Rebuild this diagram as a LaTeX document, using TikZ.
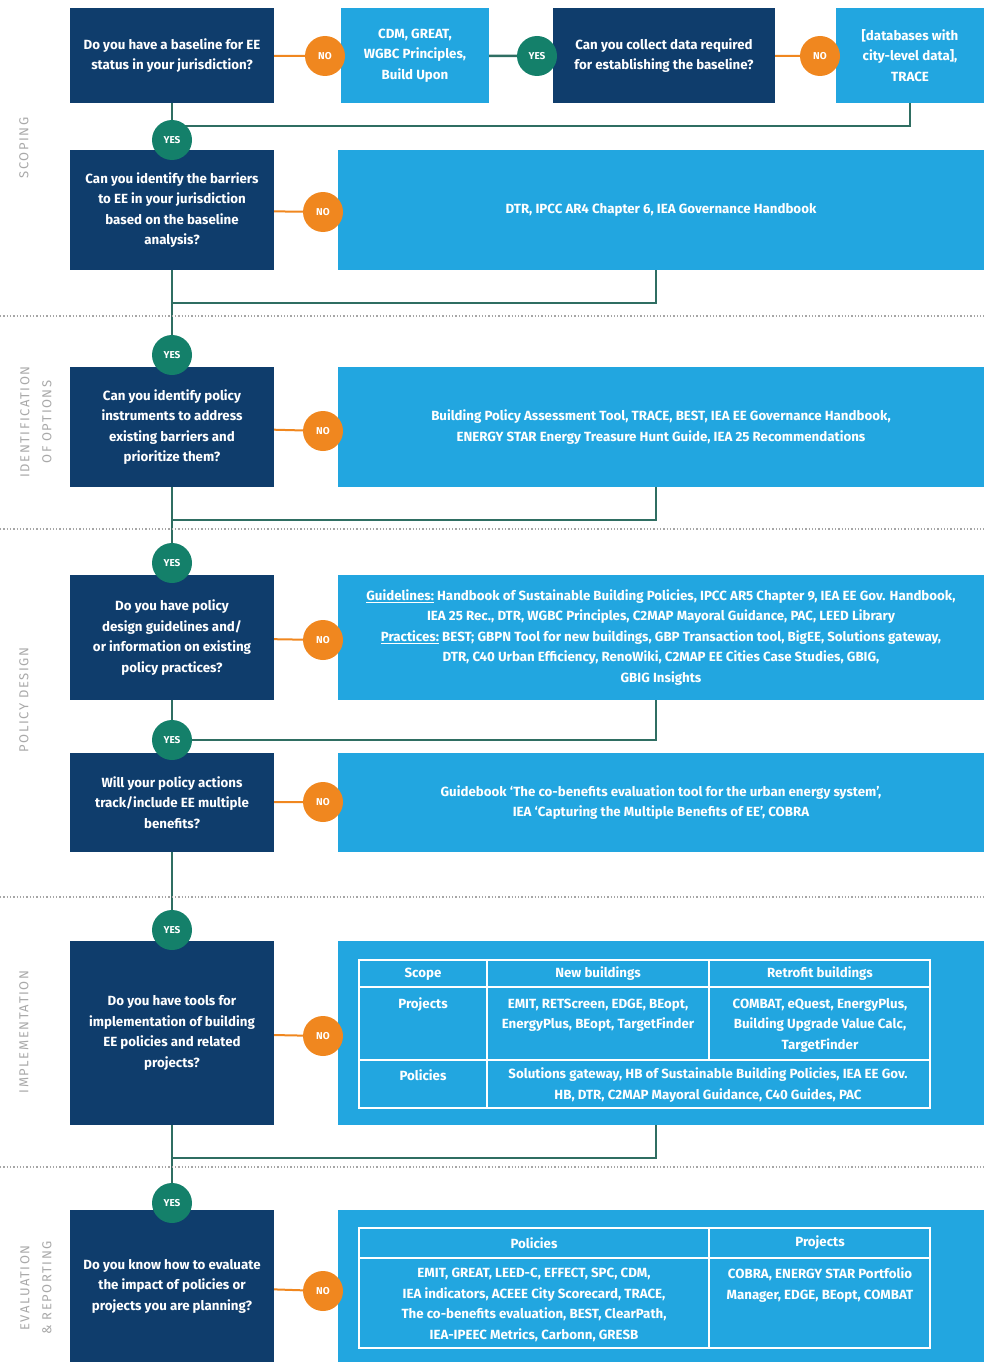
\documentclass[tikz,border=0pt]{standalone}
\usepackage{fontspec}
\setmainfont{Fira Sans}
\newfontfamily\sidefamily[LetterSpace=12]{Fira Sans}
\usetikzlibrary{backgrounds}

\definecolor{navy}{HTML}{0F3D6C}
\definecolor{sky}{HTML}{22A6E0}
\definecolor{leaf}{HTML}{14806A}
\definecolor{flame}{HTML}{F0871F}
\definecolor{tealline}{HTML}{2F6E62}
\definecolor{sidegray}{HTML}{A9A9A9}
\newcommand{\boxfont}{\bfseries\fontsize{13.3}{20.5}\selectfont}
\newcommand{\dotfont}{\bfseries\fontsize{10}{11}\selectfont}

\begin{document}
\begin{tikzpicture}[x=1pt,y=-1pt,
        question/.style={fill=navy,text=white,font=\boxfont,align=center,minimum width=204pt,inner sep=0pt},
        answer/.style={fill=sky,text=white,font=\boxfont,align=center,inner sep=0pt},
        wide/.style={answer,minimum width=646pt},
        yesdot/.style={circle,fill=leaf,text=white,font=\dotfont,minimum size=40pt,inner sep=0pt},
        nodot/.style={yesdot,fill=flame},
        flow/.style={draw=tealline,line width=2.5pt},
        nofl/.style={draw=flame,line width=2pt},
        sepline/.style={draw=gray!70,dotted,line width=1.3pt},
        grid/.style={draw=white,line width=1.6pt},
        cell/.style={text=white,font=\boxfont,align=center,inner sep=0pt},
        side/.style={rotate=90,text=sidegray,font=\sidefamily\fontsize{13}{22}\selectfont,align=center}]
    \useasboundingbox (0,0) rectangle (984,1362);

    \node[side] (s1) at (24,148) {SCOPING};
    \node[side] (s2) at (36,422) {IDENTIFICATION\\OF OPTIONS};
    \node[side] (s3) at (24,700) {POLICY DESIGN};
    \node[side] (s4) at (24,1032) {IMPLEMENTATION};
    \node[side] (s5) at (36,1288) {EVALUATION\\\& REPORTING};

    \draw[sepline] (0,316) -- (984,316);
    \draw[sepline] (0,529) -- (984,529);
    \draw[sepline] (0,897) -- (984,897);
    \draw[sepline] (0,1167) -- (984,1167);

    \node[question,minimum height=95pt] (q1) at (172,55.5) {Do you have a baseline for EE\\status in your jurisdiction?};
    \node[answer,minimum width=148pt,minimum height=95pt] (a1) at (415,55.5) {CDM, GREAT,\\WGBC Principles,\\Build Upon};
    \node[question,minimum width=222pt,minimum height=95pt] (q2) at (664,55.5) {Can you collect data required\\for establishing the baseline?};
    \node[answer,minimum width=148pt,minimum height=95pt] (a2) at (910,55.5) {[databases with\\city-level data],\\TRACE};

    \node[question,minimum height=120pt] (q3) at (172,210) {Can you identify the barriers\\to EE in your jurisdiction\\based on the baseline\\analysis?};
    \node[wide,minimum height=120pt] (b3) at (661,210) {DTR, IPCC AR4 Chapter 6, IEA Governance Handbook};

    \node[question,minimum height=120pt] (q4) at (172,427) {Can you identify policy\\instruments to address\\existing barriers and\\prioritize them?};
    \node[wide,minimum height=120pt] (b4) at (661,427) {Building Policy Assessment Tool, TRACE, BEST, IEA EE Governance Handbook,\\ENERGY STAR Energy Treasure Hunt Guide, IEA 25 Recommendations};

    \node[question,minimum height=125pt] (q5) at (172,637.5) {Do you have policy\\design guidelines and/\\or information on existing\\policy practices?};
    \node[wide,minimum height=125pt] (b5) at (661,637.5) {\underline{Guidelines:} Handbook of Sustainable Building Policies, IPCC AR5 Chapter 9, IEA EE Gov. Handbook,\\IEA 25 Rec., DTR, WGBC Principles, C2MAP Mayoral Guidance, PAC, LEED Library\\\underline{Practices:} BEST; GBPN Tool for new buildings, GBP Transaction tool, BigEE, Solutions gateway,\\DTR, C40 Urban Efficiency, RenoWiki, C2MAP EE Cities Case Studies, GBIG,\\GBIG Insights};

    \node[question,minimum height=99pt] (q6) at (172,802.5) {Will your policy actions\\track/include EE multiple\\benefits?};
    \node[wide,minimum height=99pt] (b6) at (661,802.5) {Guidebook `The co-benefits evaluation tool for the urban energy system',\\IEA `Capturing the Multiple Benefits of EE', COBRA};

    \node[question,minimum height=184pt] (q7) at (172,1033) {Do you have tools for\\implementation of building\\EE policies and related\\projects?};
    \node[wide,minimum height=184pt] (b7) at (661,1033) {};

    \node[question,minimum height=152pt] (q8) at (172,1286) {Do you know how to evaluate\\the impact of policies or\\projects you are planning?};
    \node[wide,minimum height=152pt] (b8) at (661,1286) {};

    \draw[grid] (359,960) rectangle (930,1108) (487,960) -- (487,1108) (709,960) -- (709,1060)
        (359,987) -- (930,987) (359,1060) -- (930,1060);
    \node[cell] (t1a) at (423,974) {Scope};
    \node[cell] (t1b) at (598,974) {New buildings};
    \node[cell] (t1c) at (820,974) {Retrofit buildings};
    \node[cell] (t1d) at (423,1005) {Projects};
    \node[cell] (t1e) at (598,1015) {EMIT, RETScreen, EDGE, BEopt,\\EnergyPlus, BEopt, TargetFinder};
    \node[cell] (t1f) at (820,1025) {COMBAT, eQuest, EnergyPlus,\\Building Upgrade Value Calc,\\TargetFinder};
    \node[cell] (t1g) at (423,1075) {Policies};
    \node[cell] (t1h) at (708,1085) {Solutions gateway, HB of Sustainable Building Policies, IEA EE Gov.\\HB, DTR, C2MAP Mayoral Guidance, C40 Guides, PAC};

    \draw[grid] (359,1228) rectangle (930,1348) (709,1228) -- (709,1348) (359,1258) -- (930,1258);
    \node[cell] (t2a) at (534,1243) {Policies};
    \node[cell] (t2b) at (820,1243) {Projects};
    \node[cell] (t2c) at (534,1305) {EMIT, GREAT, LEED-C, EFFECT, SPC, CDM,\\IEA indicators, ACEEE City Scorecard, TRACE,\\The co-benefits evaluation, BEST, ClearPath,\\IEA-IPEEC Metrics, Carbonn, GRESB};
    \node[cell] (t2d) at (820,1285) {COBRA, ENERGY STAR Portfolio\\Manager, EDGE, BEopt, COMBAT};

    \node[nodot] (n1) at (325,56) {NO};
    \node[yesdot] (y0) at (537,56) {YES};
    \node[nodot] (n2) at (820,56) {NO};
    \node[yesdot] (y1) at (172,140) {YES};
    \node[nodot] (n3) at (323,212) {NO};
    \node[yesdot] (y2) at (172,355) {YES};
    \node[nodot] (n4) at (323,431) {NO};
    \node[yesdot] (y3) at (172,563) {YES};
    \node[nodot] (n5) at (323,640) {NO};
    \node[yesdot] (y4) at (172,740) {YES};
    \node[nodot] (n6) at (323,802) {NO};
    \node[yesdot] (y5) at (172,930) {YES};
    \node[nodot] (n7) at (323,1036) {NO};
    \node[yesdot] (y6) at (172,1203) {YES};
    \node[nodot] (n8) at (323,1291) {NO};

    \begin{scope}[on background layer]
        \draw[nofl] (q1) -- (n1) -- (a1);
        \draw[flow] (a1) -- (y0) -- (q2);
        \draw[nofl] (q2) -- (n2) -- (a2);
        \draw[flow] (q1) -- (y1) -- (q3);
        \draw[flow] (a2.south) -- ++(0,23) -| (y1);
        \draw[nofl] (q3) -- (n3) -- (b3);
        \draw[flow] (q3) -- (y2) -- (q4);
        \draw[flow] ([xshift=-5pt]b3.south) -- ++(0,33) -| (y2);
        \draw[nofl] (q4) -- (n4) -- (b4);
        \draw[flow] (q4) -- (y3) -- (q5);
        \draw[flow] ([xshift=-5pt]b4.south) -- ++(0,33) -| (y3);
        \draw[nofl] (q5) -- (n5) -- (b5);
        \draw[flow] (q5) -- (y4) -- (q6);
        \draw[flow] ([xshift=-5pt]b5.south) |- (y4);
        \draw[nofl] (q6) -- (n6) -- (b6);
        \draw[flow] (q6) -- (y5) -- (q7);
        \draw[nofl] (q7) -- (n7) -- (b7);
        \draw[flow] (q7) -- (y6) -- (q8);
        \draw[flow] ([xshift=-5pt]b7.south) -- ++(0,33) -| (y6);
        \draw[nofl] (q8) -- (n8) -- (b8);
    \end{scope}
\end{tikzpicture}
\end{document}
